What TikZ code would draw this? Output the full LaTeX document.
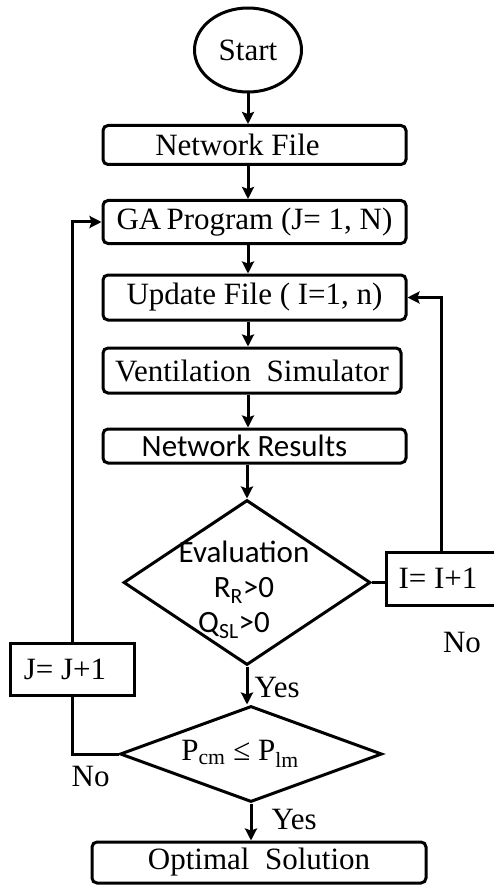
\documentclass[tikz,border=0pt]{standalone}
\usepackage{fontspec}
\setmainfont{Liberation Serif}
\newfontfamily\calibrifont{Carlito}
\usetikzlibrary{arrows.meta,shapes.geometric}

\begin{document}
\begin{tikzpicture}[x=1pt,y=-1pt,->,>={Stealth[length=12pt,width=12pt,inset=2pt]},line width=3pt,
  font=\fontsize{31}{35}\selectfont,
  box node/.style={draw,rounded corners=5pt,minimum width=303pt,inner sep=0pt},
  calc node/.style={draw,minimum height=52pt,inner sep=0pt},
  test node/.style={draw,diamond,inner sep=0pt},
  flow label/.style={inner sep=3pt}]

  \useasboundingbox (0,0) rectangle (493,885);

  \node[draw,ellipse,minimum width=107pt,minimum height=84pt,inner sep=0pt] (start) at (248,50) {Start};
  \node[box node,minimum height=39pt] (netfile) [below of=start,node distance=95pt,xshift=6.5pt] {Network File\hspace*{34pt}};
  \node[box node,minimum height=43pt] (ga) [below of=netfile,node distance=77pt] {GA\,Program (J= 1, N)};
  \node[box node,minimum height=45pt] (update) [below of=ga,node distance=75.5pt] {Update File ( I=1, n)};
  \node[box node,minimum height=45pt,minimum width=298pt] (vent) [below of=update,node distance=73pt,xshift=-2.5pt] {Ventilation\ \ Simulator};
  \node[box node,minimum height=34pt,font=\calibrifont\fontsize{31}{35}\selectfont] (results) [below of=vent,node distance=75.5pt,xshift=2.5pt] {Network Results\hspace*{20pt}};

  % the two tests
  \node[test node,minimum width=247pt,minimum height=165pt] (eval) [below of=results,node distance=136.5pt,xshift=-7.5pt] {};
  \node[align=center,inner sep=0pt,font=\calibrifont\fontsize{31}{35}\selectfont] (evaltext) at ([xshift=-3pt,yshift=-7.5pt]eval.center)
    {Evaluation\\R\textsubscript{R}>0\hspace*{30pt}\\Q\textsubscript{SL}>0\hspace*{20pt}};
  \node[test node,aspect=2.7,minimum width=262pt,minimum height=96pt] (pcheck) [below of=eval,node distance=171.5pt,xshift=4pt] {P\textsubscript{cm} ≤ P\textsubscript{lm}\hspace*{22pt}};
  \node[box node,minimum width=334pt,minimum height=41pt] (optimal) [below of=pcheck,node distance=108.5pt,xshift=8pt] {Optimal\ \ Solution};

  % counters
  \node[calc node,minimum width=110pt,minimum height=53pt] (inext) [right of=eval,node distance=194pt,yshift=4pt] {I= I+1\hspace*{6pt}};
  \node[calc node,minimum width=124pt] (jnext) [left of=pcheck,node distance=179pt,yshift=85pt] {J= J+1\hspace*{14pt}};
  \node[flow label] (ino) [below of=inext,node distance=63.5pt,xshift=21pt] {No};

  \draw (start) -- (start |- netfile.north);
  \draw (start |- netfile.south) -- (start |- ga.north);
  \draw (start |- ga.south) -- (start |- update.north);
  \draw (start |- update.south) -- (start |- vent.north);
  \draw (start |- vent.south) -- (start |- results.north);
  \draw (eval.north |- results.south) -- (eval.north);
  \draw (eval.south) -- (eval.south |- pcheck.north)
    node[flow label,midway,right,xshift=3pt,yshift=-2pt] {Yes};
  \draw (pcheck.south) -- (pcheck.south |- optimal.north)
    node[flow label,midway,right,xshift=16pt,yshift=3pt] {Yes};

  % loops back
  \draw[-] (eval.east) -- (inext.west |- eval.east);
  \draw (inext.north) |- (update.east);
  \draw[-] (pcheck.west) -| (jnext.south)
    node[flow label,pos=0.3,below,yshift=-8pt] {No};
  \draw (jnext.north) |- (ga.west);
\end{tikzpicture}
\end{document}
